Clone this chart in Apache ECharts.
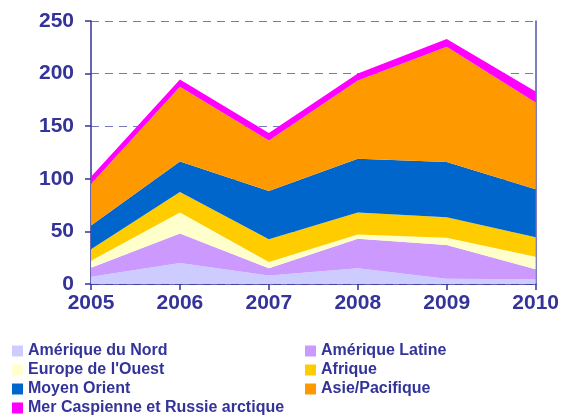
<!DOCTYPE html>
<html>
<head>
<meta charset="utf-8">
<script src="https://cdn.jsdelivr.net/npm/echarts@6/dist/echarts.min.js"></script>
<style>
html, body { margin: 0; padding: 0; background: #fff; }
#chart { width: 562px; height: 416px; }
</style>
</head>
<body>
<div id="chart"></div>
<script>
var years = ['2005', '2006', '2007', '2008', '2009', '2010'];
var ameriqueNord = [7, 20, 8, 15, 5, 4.5];
var ameriqueLatine = [8.5, 28, 7, 28, 32, 9.5];
var europeOuest = [6.5, 20, 6, 4, 7, 12];
var afrique = [11, 19.5, 21.5, 21, 19.5, 18.5];
var moyenOrient = [22.5, 29, 46, 51, 52.5, 45.5];
var asiePacifique = [39.5, 71, 48, 74.5, 109.5, 82.5];
var merCaspienne = [7, 7, 7, 6.5, 7.5, 10.5];

var names = ['Amérique du Nord', 'Amérique Latine', "Europe de l'Ouest", 'Afrique',
	'Moyen Orient', 'Asie/Pacifique', 'Mer Caspienne et Russie arctique'];
var values = [ameriqueNord, ameriqueLatine, europeOuest, afrique, moyenOrient, asiePacifique, merCaspienne];
var colors = ['#ccccff', '#cc99ff', '#ffffcc', '#ffcc00', '#0066cc', '#ff9900', '#ff00ff'];

var textColor = '#333399';

var series = [];
for (var i = 0; i < names.length; i++) {
	series.push({
		name : names[i],
		type : 'line',
		stack : 'total',
		data : values[i],
		symbol : 'none',
		lineStyle : { width : 0 },
		areaStyle : { color : colors[i], opacity : 1 },
		itemStyle : { color : colors[i] }
	});
}

var legendText = { color : textColor, fontSize : 16, fontWeight : 'bold',
	fontFamily : 'Liberation Sans', lineHeight : 16 };

var option = {
	animation : false,
	color : colors,
	grid : { left : 91, right : 24, top : 21, bottom : 132 },
	legend : [ {
		orient : 'vertical',
		left : 12,
		top : 343,
		height : 100,
		padding : 0,
		itemWidth : 11,
		itemHeight : 11,
		itemGap : 3,
		icon : 'rect',
		textStyle : legendText,
		data : [names[0], names[2], names[4], names[6]]
	}, {
		orient : 'vertical',
		left : 305,
		top : 343,
		height : 100,
		padding : 0,
		itemWidth : 11,
		itemHeight : 11,
		itemGap : 3,
		icon : 'rect',
		textStyle : legendText,
		data : [names[1], names[3], names[5]]
	} ],
	xAxis : {
		type : 'category',
		data : years,
		boundaryGap : false,
		axisLine : { lineStyle : { color : textColor, width : 1.5 } },
		axisTick : { show : true, length : 6, alignWithLabel : true,
			lineStyle : { color : textColor, width : 1.5 } },
		axisLabel : { color : textColor, fontSize : 21, fontWeight : 'bold',
			fontFamily : 'Liberation Sans', margin : 9 },
		splitLine : { show : false }
	},
	yAxis : [ {
		type : 'value',
		min : 0,
		max : 250,
		interval : 50,
		axisLine : { show : true, lineStyle : { color : textColor, width : 1.5 } },
		axisTick : { show : true, length : 6, lineStyle : { color : textColor, width : 1.5 } },
		axisLabel : { color : textColor, fontSize : 21, fontWeight : 'bold',
			fontFamily : 'Liberation Sans', margin : 17 },
		splitLine : { show : true, lineStyle : { color : '#7777bb', type : [8, 6], width : 1 } }
	}, {
		type : 'value',
		min : 0,
		max : 250,
		interval : 50,
		position : 'right',
		axisLine : { show : true, lineStyle : { color : '#5555aa', width : 1.5 } },
		axisTick : { show : false },
		axisLabel : { show : false },
		splitLine : { show : false }
	} ],
	series : series
};

var myChart = echarts.init(document.getElementById('chart'));
myChart.setOption(option);
</script>
</body>
</html>
